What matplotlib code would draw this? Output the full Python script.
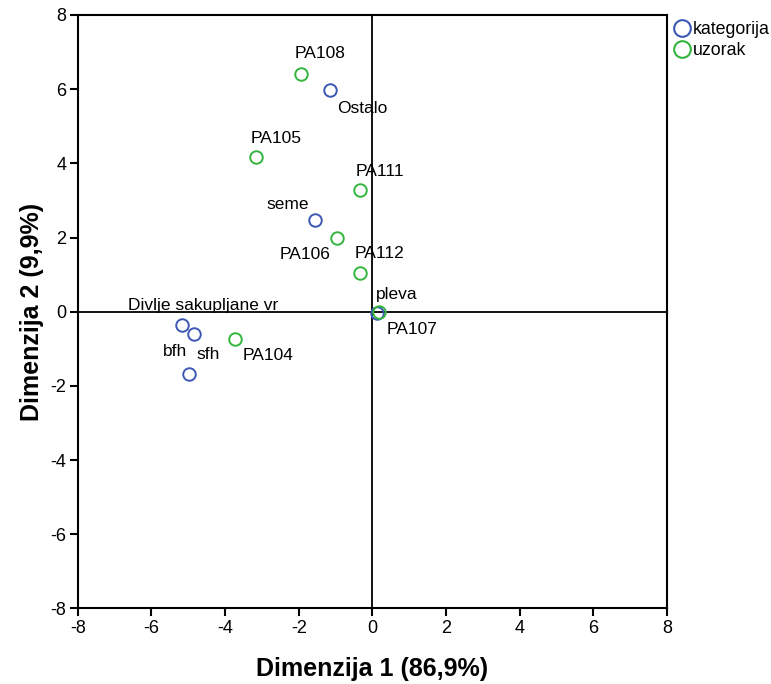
import matplotlib
matplotlib.use("Agg")
import matplotlib.pyplot as plt
from matplotlib.lines import Line2D

plt.rcParams['font.family'] = ['Liberation Sans', 'DejaVu Sans']

# category points (blue)
cat_labels = ["Ostalo", "seme", "pleva", "Divlje sakupljane vr", "sfh", "bfh"]
cat_x = [-1.15, -1.55, 0.13, -5.16, -4.83, -4.98]
cat_y = [5.97, 2.47, -0.04, -0.36, -0.60, -1.69]

# sample points (green)
smp_labels = ["PA108", "PA105", "PA111", "PA106", "PA112", "PA107", "PA104"]
smp_x = [-1.95, -3.15, -0.33, -0.95, -0.34, 0.18, -3.73]
smp_y = [6.42, 4.17, 3.28, 1.99, 1.05, -0.01, -0.73]

# label offsets in pixels (dx, dy)
cat_off = [(32, -18), (-28, 16), (20, 19), (21, 20), (14, -21), (-14, 23)]
smp_off = [(20, 20), (20, 19), (20, 19), (-32, -17), (20, 19), (33, -17), (33, -17)]

xticks = [-8, -6, -4, -2, 0, 2, 4, 6, 8]
yticks = [-8, -6, -4, -2, 0, 2, 4, 6, 8]

blue = '#3d57b5'
green = '#34b53e'

fig = plt.figure(figsize=(7.71, 6.84), dpi=100)
ax = fig.add_axes([0.1008, 0.1105, 0.7643, 0.8676])
ax.set_xlim(-8, 8)
ax.set_ylim(-8, 8)

ax.axhline(0, color='black', lw=1.3, zorder=1)
ax.axvline(0, color='black', lw=1.3, zorder=1)

ax.plot(cat_x, cat_y, 'o', ms=9, mfc='none', mec=blue, mew=1.4, ls='none', zorder=3)
ax.plot(smp_x, smp_y, 'o', ms=9, mfc='none', mec=green, mew=1.4, ls='none', zorder=4)

for lab, x, y, off in zip(cat_labels, cat_x, cat_y, cat_off):
    ax.annotate(lab, (x, y), xytext=off, textcoords='offset pixels',
                ha='center', va='center', fontsize=12.5, color='black', zorder=5)
for lab, x, y, off in zip(smp_labels, smp_x, smp_y, smp_off):
    ax.annotate(lab, (x, y), xytext=off, textcoords='offset pixels',
                ha='center', va='center', fontsize=12.5, color='black', zorder=5)

ax.set_xticks(xticks)
ax.set_yticks(yticks)
ax.set_xticklabels([str(t) for t in xticks])
ax.set_yticklabels([str(t) for t in yticks])
for lbl in ax.get_xticklabels() + ax.get_yticklabels():
    lbl.set_fontsize(13)
ax.tick_params(direction='out', length=6, width=1.5, pad=2, colors='black')
for s in ax.spines.values():
    s.set_linewidth(1.5)
    s.set_color('black')

ax.set_xlabel('Dimenzija 1 (86,9%)', fontsize=18, fontweight='bold', labelpad=15)
ax.set_ylabel('Dimenzija 2 (9,9%)', fontsize=18, fontweight='bold', labelpad=5)

handles = [Line2D([], [], marker='o', ls='none', ms=12, mfc='none', mec=blue, mew=1.5),
           Line2D([], [], marker='o', ls='none', ms=12, mfc='none', mec=green, mew=1.5)]
leg = fig.legend(handles, ['kategorija', 'uzorak'], loc='upper left',
                 bbox_to_anchor=(0.861, 0.98), frameon=False, fontsize=12.8,
                 handletextpad=0.05, labelspacing=0.25, borderaxespad=0,
                 handlelength=1.2)

fig.savefig('out.png', dpi=100)
